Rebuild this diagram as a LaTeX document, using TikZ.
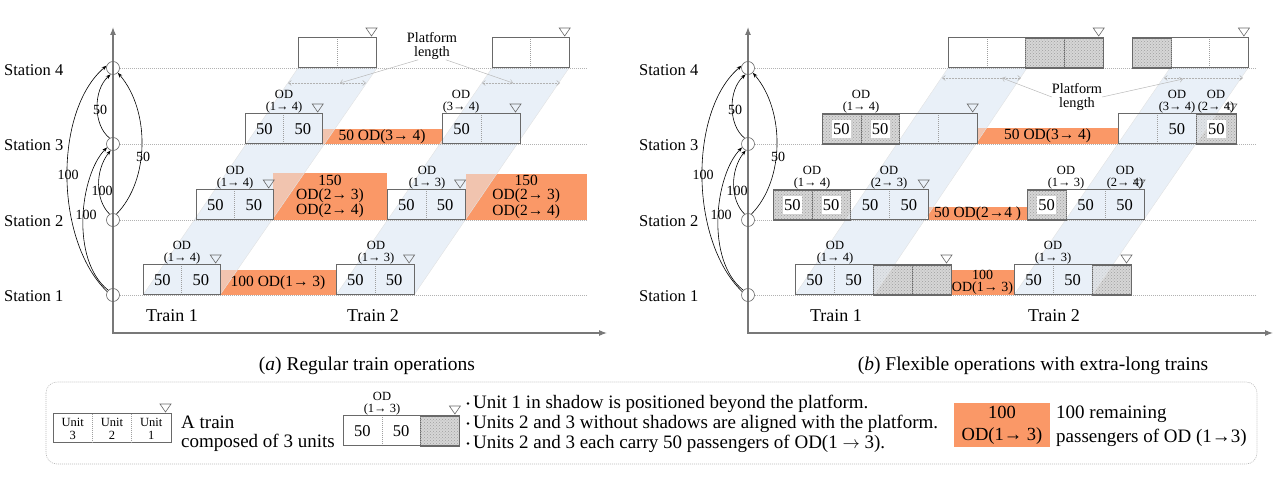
\documentclass[tikz,border=0pt]{standalone}
\usepackage{fontspec}
\setmainfont{Liberation Serif}
\usetikzlibrary{arrows.meta,patterns}
\pgfdeclarelayer{bandL}
\pgfdeclarelayer{fillL}
\pgfdeclarelayer{ovL}
\pgfsetlayers{bandL,fillL,ovL,main}
\definecolor{orng}{RGB}{250,152,103}
\definecolor{bandc}{RGB}{233,240,248}
\definecolor{bordc}{RGB}{105,105,105}
\definecolor{hatchc}{RGB}{214,214,214}
\definecolor{axisc}{RGB}{120,120,120}
\newcommand{\fsz}[2]{\fontsize{#1}{#2}\selectfont}
\tikzset{
  numlbl/.style={font=\fsz{16.5}{17}, inner sep=0.5pt},
  wlbl/.style={numlbl, fill=white, minimum width=19pt, minimum height=18pt, inner sep=0pt},
  odlbl/.style={font=\fsz{12.5}{12}, align=center, inner sep=0pt},
  orlbl/.style={font=\fsz{15.5}{14}, align=center, inner sep=0pt},
  divline/.style={draw=gray!75, line width=0.5pt, dash pattern=on 1pt off 1pt},
  trainbox/.style={draw=bordc, line width=0.7pt, inner sep=0pt, anchor=south west},
  tri/.style={draw=bordc, line width=0.6pt},
  stc/.style={circle, draw=bordc, line width=0.6pt, minimum size=13pt, inner sep=0pt},
  stline/.style={draw=gray!60, line width=0.5pt, dash pattern=on 1pt off 1pt},
  arcl/.style={draw=black, line width=0.6pt, -{Stealth[length=5pt,width=3.6pt]}},
  arclbl/.style={font=\fsz{14}{14}, inner sep=0pt},
  stlbl/.style={font=\fsz{16.5}{17}, inner sep=0pt, anchor=base west},
  axisln/.style={draw=axisc, line width=1.1pt, {Latex[length=8pt,width=6pt]}-{Latex[length=8pt,width=6pt]}},
  trlbl/.style={font=\fsz{18}{18}, inner sep=0pt},
  caplbl/.style={font=\fsz{19.5}{20}, inner sep=0pt},
  pltxt/.style={font=\fsz{14.3}{14}, align=center, inner sep=0pt},
  plarr/.style={draw=gray!60, line width=0.5pt, dash pattern=on 2pt off 1pt, {Straight Barb[length=3pt,width=5pt]}-{Straight Barb[length=3pt,width=5pt]}},
  plptr/.style={draw=gray!55, line width=0.5pt, -{Straight Barb[length=3pt,width=5pt]}},
  bandov/.style={fill=bandc, fill opacity=0.5, draw=gray!22, line width=0.4pt, draw opacity=1},
  lgtxt/.style={font=\fsz{19}{19}, inner sep=0pt, anchor=base west},
}
% train: name, xleft, ybottom, unit width, unit types (0 empty,1 plain 50,2 hatched,3 hatched 50)
\newcommand{\train}[5]{%
  \foreach \ty [count=\i from 0] in {#5} {%
    \pgfmathsetmacro{\xa}{#2+\i*#4}%
    \pgfmathsetmacro{\xb}{#2+(\i+1)*#4}%
    \pgfmathsetmacro{\xm}{#2+(\i+0.5)*#4}%
    \ifnum\ty>1\relax
      \begin{pgfonlayer}{fillL}\fill[hatchc] (\xa,#3) rectangle (\xb,#3-30);
        \fill[pattern=crosshatch dots, pattern color=gray!75] (\xa,#3) rectangle (\xb,#3-30);\end{pgfonlayer}%
      \draw[bordc, line width=0.6pt] (\xa,#3) rectangle (\xb,#3-30);%
    \fi
    \ifnum\i>0\relax \draw[divline] (\xa,#3) -- (\xa,#3-30);\fi
    \ifnum\ty=1\relax \node[numlbl] (#1u\i) at (\xm,#3-15) {50};\fi
    \ifnum\ty=3\relax \node[wlbl] (#1u\i) at (\xm,#3-15) {50};\fi
    \xdef\lastx{\xb}%
  }%
  \pgfmathsetmacro{\ww}{\lastx-#2}%
  \node[trainbox, minimum width=\ww pt, minimum height=30pt] (#1) at (#2,#3) {};%
  \draw[tri] (\lastx-10,#3-40) -- (\lastx+1,#3-40) -- (\lastx-4.5,#3-32) -- cycle;%
}
\newcommand{\odl}[4]{\node[odlbl] (#1) at (#2,#3) {OD\\(#4)};}
\newcommand{\orb}[6][]{%
  \begin{pgfonlayer}{fillL}\fill[orng] (#3,#4) rectangle (#5,#6);\end{pgfonlayer}%
  \node[orlbl,#1] (#2) at ({(#3+#5)/2},{(#4+#6)/2}) {\orbtext};}
\newcommand{\band}[4]{%
  \begin{pgfonlayer}{bandL}\fill[bandc] #1 -- #2 -- #3 -- #4 -- cycle;\end{pgfonlayer}%
  \begin{pgfonlayer}{ovL}\path[bandov] #1 -- #2 -- #3 -- #4 -- cycle;\end{pgfonlayer}}
\newcommand{\stationset}[1]{%
  \node[stc] (#11) at (113,295) {};
  \node[stc] (#12) at (113,220) {};
  \node[stc] (#13) at (113,144) {};
  \node[stc] (#14) at (113,68) {};
  \node[stlbl] (#1n1) at (4,302) {Station 1};
  \node[stlbl] (#1n2) at (4,227) {Station 2};
  \node[stlbl] (#1n3) at (4,151) {Station 3};
  \node[stlbl] (#1n4) at (4,76) {Station 4};
  \draw[arcl] (#11.150) .. controls (54,240) and (54,110) .. (#14.160);
  \draw[arcl] (#11.135) .. controls (70,260) and (80,175) .. (#13.210);
  \draw[arcl] (#12.120) .. controls (95,200) and (95,170) .. (#13.250);
  \draw[arcl] (#13.120) .. controls (93,125) and (93,90) .. (#14.250);
  \draw[arcl] (#12.60) .. controls (150,180) and (150,110) .. (#14.315);
  \node[arclbl] (#1a1) at (68,175) {100};
  \node[arclbl] (#1a2) at (86,215) {100};
  \node[arclbl] (#1a3) at (102,191) {100};
  \node[arclbl] (#1a4) at (100,110) {50};
  \node[arclbl] (#1a5) at (143,157) {50};
}
\begin{document}
\begin{tikzpicture}[x=1pt,y=-1pt]
\useasboundingbox (0,0) rectangle (1280,478);

% ---------------- bands
\band{(143,295)}{(220,295)}{(377,68)}{(298,68)}
\band{(336,295)}{(414,295)}{(569,68)}{(492,68)}
\band{(795,295)}{(874,295)}{(1027,68)}{(948,68)}
\band{(1014,295)}{(1092,295)}{(1248,68)}{(1170,68)}

% ---------------- axes and stations
\coordinate (LY) at (113,27); \coordinate (LO) at (113,333); \coordinate (LX) at (607,333);
\draw[axisln] (LY) -- (LO) -- (LX);
\coordinate (RY) at (748,27); \coordinate (RO) at (748,333); \coordinate (RX) at (1273,333);
\draw[axisln] (RY) -- (RO) -- (RX);
\stationset{L}
\begin{scope}[xshift=635pt]
\stationset{R}
\end{scope}
\coordinate (Le1) at (587,295); \coordinate (Le2) at (587,220); \coordinate (Le3) at (587,144); \coordinate (Le4) at (587,68);
\coordinate (Re1) at (1256,295); \coordinate (Re2) at (1256,220); \coordinate (Re3) at (1256,144); \coordinate (Re4) at (1256,68);
\foreach \k in {1,2,3,4} {\draw[stline] (L\k.east) -- (Le\k); \draw[stline] (R\k.east) -- (Re\k);}

% ---------------- orange boxes
\def\orbtext{100 OD(1→ 3)}\orb{LO1}{220}{270}{336}{295}
\def\orbtext{150\\OD(2→ 3)\\OD(2→ 4)}\orb{LO2}{273}{173}{387}{220}
\def\orbtext{150\\OD(2→ 3)\\OD(2→ 4)}\orb{LO3}{465.5}{174}{587}{220}
\def\orbtext{50 OD(3→ 4)}\orb{LO4}{322}{129}{442}{144}
\def\orbtext{100\\OD(1→ 3)}\orb[font=\fsz{14}{11.5}]{RO1}{951}{270}{1014}{295}
\def\orbtext{50 OD(2→4 )}\orb{RO2}{928.2}{207}{1027}{220}
\def\orbtext{50 OD(3→ 4)}\orb{RO3}{977.2}{128}{1118}{144}

% ---------------- left trains
\train{LA1}{143}{295}{38.6}{1,1}
\train{LA2}{196}{220}{38.6}{1,1}
\train{LA3}{245}{144}{38.6}{1,1}
\train{LA4}{298}{68}{39}{0,0}
\train{LB1}{336}{295}{38.8}{1,1}
\train{LB2}{387}{220}{38.8}{1,1}
\train{LB3}{442}{144}{39}{1,0}
\train{LB4}{492}{68}{38.6}{0,0}
\odl{LA1o}{182}{253}{1→ 4}
\odl{LA2o}{235}{178}{1→ 4}
\odl{LA3o}{284}{102}{1→ 4}
\odl{LB1o}{376}{253}{1→ 3}
\odl{LB2o}{427}{178}{1→ 3}
\odl{LB3o}{461}{102}{3→ 4}

% ---------------- right trains
\train{RA1}{795}{295}{39}{1,1,2,2}
\train{RA2}{773}{220}{38.8}{3,3,1,1}
\train{RA3}{822}{144}{38.8}{3,3,0,0}
\train{RA4}{948}{68}{38.8}{0,0,2,2}
\train{RB1}{1014}{295}{39}{1,1,2}
\train{RB2}{1027}{220}{39}{3,1,1}
\train{RB3}{1118}{144}{39.3}{0,1,3}
\train{RB4}{1132}{68}{38.8}{2,0,0}
\odl{RA1o}{835}{253}{1→ 4}
\odl{RB1o}{1053}{253}{1→ 3}
\odl{RA2o}{812}{178}{1→ 4}
\odl{RA2p}{889}{178}{2→ 3}
\odl{RB2o}{1066}{178}{1→ 3}
\odl{RB2p}{1125}{178}{2→ 4}
\odl{RA3o}{861}{102}{1→ 4}
\odl{RB3o}{1177}{102}{3→ 4}
\odl{RB3p}{1216}{102}{2→ 4}

% ---------------- platform length
\node[pltxt] (PLa) at (432,46) {Platform\\length};
\coordinate (PLa1) at (340,83); \coordinate (PLa2) at (513,83);
\draw[plptr] (PLa.-135) -- (PLa1);
\draw[plptr] (PLa.-45) -- (PLa2);
\coordinate (BAa1) at (288,83); \coordinate (BAa2) at (366,83);
\coordinate (BAb1) at (482,83); \coordinate (BAb2) at (560,83);
\draw[plarr] (BAa1) -- (BAa2);
\draw[plarr] (BAb1) -- (BAb2);
\node[pltxt] (PLb) at (1077,97) {Platform\\length};
\coordinate (PLb1) at (1002,78); \coordinate (PLb2) at (1183,79);
\draw[plptr] (PLb.west) -- (PLb1);
\draw[plptr] (PLb.east) -- (PLb2);
\coordinate (BAc1) at (942,78); \coordinate (BAc2) at (1021,78);
\coordinate (BAd1) at (1164,78); \coordinate (BAd2) at (1243,78);
\draw[plarr] (BAc1) -- (BAc2);
\draw[plarr] (BAd1) -- (BAd2);

% ---------------- train labels and captions
\node[trlbl] (LT1) at (172,316) {Train 1};
\node[trlbl] (LT2) at (373,316) {Train 2};
\node[trlbl] (RT1) at (836,316) {Train 1};
\node[trlbl] (RT2) at (1054,316) {Train 2};
\node[caplbl] (CapA) at (367,366) {(\textit{a}) Regular train operations};
\node[caplbl] (CapB) at (1033,366) {(\textit{b}) Flexible operations with extra-long trains};

% ---------------- legend
\draw[draw=gray!55, line width=0.6pt, dash pattern=on 1pt off 1pt, rounded corners=11pt] (46,382) rectangle (1257,464);
\node[trainbox, minimum width=118pt, minimum height=29pt] (LgA) at (53,443) {};
\draw[divline] (92.3,443) -- (92.3,414);
\draw[divline] (131.7,443) -- (131.7,414);
\node[font=\fsz{12.5}{12.5}, align=center, inner sep=0pt] (LgA1) at (72.7,429) {Unit\\3};
\node[font=\fsz{12.5}{12.5}, align=center, inner sep=0pt] (LgA2) at (112,429) {Unit\\2};
\node[font=\fsz{12.5}{12.5}, align=center, inner sep=0pt] (LgA3) at (151.3,429) {Unit\\1};
\draw[tri] (160,404) -- (171,404) -- (165.5,412) -- cycle;
\node[lgtxt] (LgAt1) at (181,428) {A train};
\node[lgtxt] (LgAt2) at (181,447) {composed of 3 units};
\train{LgB}{343}{446}{38.8}{1,1,2}
\odl{LgBo}{382}{404}{1→ 3}
\fill (468,403.5) circle (1.4);
\fill (468,423.5) circle (1.4);
\fill (468,443.5) circle (1.4);
\node[lgtxt] (LgC1) at (473,408) {Unit 1 in shadow is positioned beyond the platform.};
\node[lgtxt] (LgC2) at (473,428) {Units 2 and 3 without shadows are aligned with the platform.};
\node[lgtxt] (LgC3) at (473,448) {Units 2 and 3 each carry 50 passengers of OD(1 $\rightarrow$ 3).};
\def\orbtext{100\\OD(1→ 3)}\orb[font=\fsz{18.5}{22}]{LgD}{954}{403}{1050}{447}
\node[lgtxt] (LgE1) at (1056,418) {100 remaining};
\node[lgtxt] (LgE2) at (1056,442) {passengers of OD (1→3)};
\end{tikzpicture}
\end{document}
